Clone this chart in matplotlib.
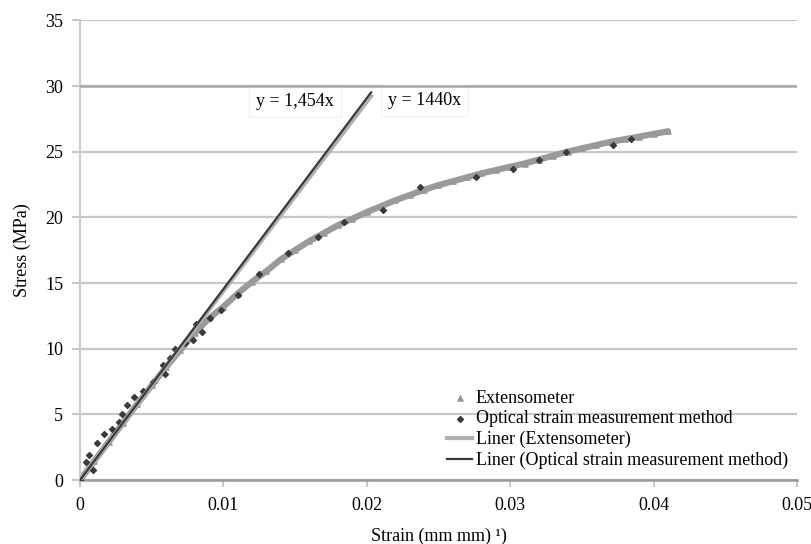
import numpy as np
import matplotlib.pyplot as plt

# extensometer readings (strain, stress MPa)
ext_strain = [0.0, 0.001, 0.002, 0.003, 0.004, 0.005, 0.006, 0.007, 0.008, 0.009,
              0.010, 0.011, 0.012, 0.013, 0.014, 0.015, 0.016, 0.017, 0.018, 0.019,
              0.020, 0.021, 0.022, 0.023, 0.024, 0.025, 0.026, 0.027, 0.028, 0.029,
              0.030, 0.031, 0.032, 0.033, 0.034, 0.035, 0.036, 0.037, 0.038, 0.039,
              0.040, 0.041]
ext_stress = [0.0, 1.45, 2.9, 4.35, 5.8, 7.2, 8.6, 9.9, 11.2, 12.3,
              13.2, 14.2, 15.1, 15.9, 16.8, 17.5, 18.2, 18.8, 19.4, 19.9,
              20.4, 20.85, 21.3, 21.7, 22.1, 22.45, 22.75, 23.05, 23.35, 23.6,
              23.85, 24.1, 24.4, 24.7, 25.0, 25.25, 25.5, 25.75, 25.95, 26.15,
              26.35, 26.55]

# optical strain measurement readings
opt_strain = [0.0, 0.0004, 0.00065, 0.0009, 0.0012, 0.0017, 0.0022, 0.0027, 0.0029,
              0.0033, 0.0038, 0.0044, 0.0051, 0.0059, 0.0058, 0.0063, 0.0066, 0.0073,
              0.0079, 0.0081, 0.0085, 0.0091, 0.0098, 0.011, 0.0125, 0.0145, 0.0166,
              0.0184, 0.0211, 0.0237, 0.0276, 0.0302, 0.032, 0.0339, 0.0372, 0.0384]
opt_stress = [0.0, 1.35, 1.9, 0.76, 2.84, 3.5, 3.86, 4.4, 5.0,
              5.7, 6.34, 6.77, 7.48, 8.1, 8.75, 9.26, 9.95, 10.4,
              10.65, 11.87, 11.29, 12.3, 12.94, 14.08, 15.7, 17.25, 18.5,
              19.66, 20.55, 22.3, 23.1, 23.7, 24.4, 25.0, 25.5, 26.0]

# linear fits through origin
slope_ext = 1440
slope_opt = 1454
fit_end = 0.0203

plt.rcParams['font.family'] = ['Liberation Serif', 'DejaVu Serif']

fig = plt.figure(figsize=(8.12, 5.44), dpi=100)
ax = fig.add_axes([0.0985, 0.1176, 0.883, 0.845])

ax.set_xlim(0, 0.05)
ax.set_ylim(0, 35)
ax.set_xticks([0, 0.01, 0.02, 0.03, 0.04, 0.05])
ax.set_xticklabels(['0', '0.01', '0.02', '0.03', '0.04', '0.05'])
ax.set_yticks(range(0, 36, 5))

ax.yaxis.grid(True, color='#c8c8c8', lw=1.6)
ax.axhline(30, color='#a8a8a8', lw=1.8, zorder=6)
ax.set_axisbelow(True)
for s in ['top', 'right']:
    ax.spines[s].set_visible(False)
ax.spines['left'].set_color('#cccccc')
ax.spines['left'].set_linewidth(1.6)
ax.spines['bottom'].set_color('#9a9a9a')
ax.spines['bottom'].set_linewidth(1.8)
ax.tick_params(axis='y', length=6, color='#c8c8c8', width=1.5, labelsize=13, pad=6)
ax.tick_params(axis='x', length=5, color='#c8c8c8', width=1.5, labelsize=13, pad=7)

ax.plot(ext_strain, ext_stress, color='#9a9a9a', lw=4.5, solid_capstyle='round', zorder=2)
ax.scatter(ext_strain, ext_stress, marker='^', s=14, color='#999999', zorder=2,
           label='Extensometer')
ax.scatter(opt_strain, opt_stress, marker='D', s=9, color='#3a3a3a', zorder=3,
           label='Optical strain measurement method')

xf = np.array([0, fit_end])
ax.plot(xf, slope_ext * xf, color='#b0b0b0', lw=3, zorder=3,
        label='Liner (Extensometer)')
ax.plot(xf, slope_opt * xf, color='#3a3a3a', lw=1.6, zorder=4,
        label='Liner (Optical strain measurement method)')

ax.text(0.0150, 28.8, 'y = 1,454x', fontsize=13, ha='center', va='center',
        bbox=dict(facecolor='white', edgecolor='#f2f2f2', lw=0.8, pad=5), zorder=5)
ax.text(0.0240, 28.9, 'y = 1440x', fontsize=13, ha='center', va='center',
        bbox=dict(facecolor='white', edgecolor='#f2f2f2', lw=0.8, pad=5), zorder=5)

ax.legend(loc='lower right', bbox_to_anchor=(1.005, -0.004), frameon=False,
          fontsize=13, handlelength=1.4, handletextpad=0.2, labelspacing=0.2,
          borderpad=0.2)

ax.set_xlabel('Strain (mm mm) \u00b9)', fontsize=13, labelpad=10)
ax.set_ylabel('Stress (MPa)', fontsize=13, labelpad=10)

fig.savefig('out.png', dpi=100)
